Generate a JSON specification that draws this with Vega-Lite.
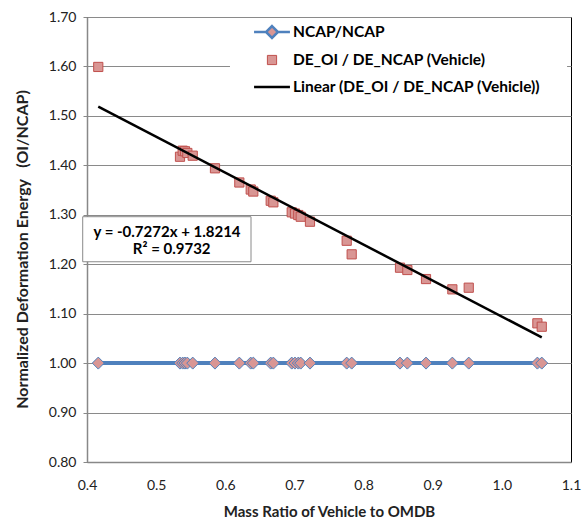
{
  "$schema": "https://vega.github.io/schema/vega-lite/v6.json",
  "width": 484,
  "height": 445,
  "autosize": {"type": "none"},
  "padding": {"left": 87, "top": 17, "right": 16, "bottom": 59},
  "background": "white",
  "config": {
    "font": "Lato",
    "view": {"stroke": "#000000", "strokeWidth": 1},
    "legend": {"symbolSize": 529},
    "scale": {"continuousPadding": 0}
  },
  "datasets": {
    "ncap": [
      {"ratio": 0.4163, "value": 1.0}, {"ratio": 0.5345, "value": 1.0}, {"ratio": 0.5384, "value": 1.0},
      {"ratio": 0.5417, "value": 1.0}, {"ratio": 0.5451, "value": 1.0}, {"ratio": 0.5529, "value": 1.0},
      {"ratio": 0.5851, "value": 1.0}, {"ratio": 0.6203, "value": 1.0}, {"ratio": 0.6368, "value": 1.0},
      {"ratio": 0.6405, "value": 1.0}, {"ratio": 0.6657, "value": 1.0}, {"ratio": 0.6695, "value": 1.0},
      {"ratio": 0.6961, "value": 1.0}, {"ratio": 0.7008, "value": 1.0}, {"ratio": 0.7056, "value": 1.0},
      {"ratio": 0.7091, "value": 1.0}, {"ratio": 0.7225, "value": 1.0}, {"ratio": 0.7756, "value": 1.0},
      {"ratio": 0.7828, "value": 1.0}, {"ratio": 0.8527, "value": 1.0}, {"ratio": 0.8633, "value": 1.0},
      {"ratio": 0.8903, "value": 1.0}, {"ratio": 0.9284, "value": 1.0}, {"ratio": 0.9521, "value": 1.0},
      {"ratio": 1.0514, "value": 1.0}, {"ratio": 1.0577, "value": 1.0}
    ],
    "de": [
      {"ratio": 0.4163, "value": 1.599, "series": "DE_OI / DE_NCAP (Vehicle)"},
      {"ratio": 0.5345, "value": 1.4174, "series": "DE_OI / DE_NCAP (Vehicle)"},
      {"ratio": 0.5384, "value": 1.4296, "series": "DE_OI / DE_NCAP (Vehicle)"},
      {"ratio": 0.5417, "value": 1.4284, "series": "DE_OI / DE_NCAP (Vehicle)"},
      {"ratio": 0.5451, "value": 1.425, "series": "DE_OI / DE_NCAP (Vehicle)"},
      {"ratio": 0.5529, "value": 1.4195, "series": "DE_OI / DE_NCAP (Vehicle)"},
      {"ratio": 0.5851, "value": 1.394, "series": "DE_OI / DE_NCAP (Vehicle)"},
      {"ratio": 0.6203, "value": 1.3653, "series": "DE_OI / DE_NCAP (Vehicle)"},
      {"ratio": 0.6368, "value": 1.3511, "series": "DE_OI / DE_NCAP (Vehicle)"},
      {"ratio": 0.6405, "value": 1.347, "series": "DE_OI / DE_NCAP (Vehicle)"},
      {"ratio": 0.6657, "value": 1.3284, "series": "DE_OI / DE_NCAP (Vehicle)"},
      {"ratio": 0.6695, "value": 1.3252, "series": "DE_OI / DE_NCAP (Vehicle)"},
      {"ratio": 0.6961, "value": 1.305, "series": "DE_OI / DE_NCAP (Vehicle)"},
      {"ratio": 0.7008, "value": 1.3025, "series": "DE_OI / DE_NCAP (Vehicle)"},
      {"ratio": 0.7056, "value": 1.2995, "series": "DE_OI / DE_NCAP (Vehicle)"},
      {"ratio": 0.7091, "value": 1.2961, "series": "DE_OI / DE_NCAP (Vehicle)"},
      {"ratio": 0.7225, "value": 1.286, "series": "DE_OI / DE_NCAP (Vehicle)"},
      {"ratio": 0.7756, "value": 1.2475, "series": "DE_OI / DE_NCAP (Vehicle)"},
      {"ratio": 0.7828, "value": 1.22, "series": "DE_OI / DE_NCAP (Vehicle)"},
      {"ratio": 0.8527, "value": 1.193, "series": "DE_OI / DE_NCAP (Vehicle)"},
      {"ratio": 0.8633, "value": 1.1883, "series": "DE_OI / DE_NCAP (Vehicle)"},
      {"ratio": 0.8903, "value": 1.17, "series": "DE_OI / DE_NCAP (Vehicle)"},
      {"ratio": 0.9284, "value": 1.1492, "series": "DE_OI / DE_NCAP (Vehicle)"},
      {"ratio": 0.9521, "value": 1.1525, "series": "DE_OI / DE_NCAP (Vehicle)"},
      {"ratio": 1.0514, "value": 1.0805, "series": "DE_OI / DE_NCAP (Vehicle)"},
      {"ratio": 1.0577, "value": 1.0736, "series": "DE_OI / DE_NCAP (Vehicle)"}
    ],
    "trend": [
      {"ratio": 0.4163, "value": 1.5187},
      {"ratio": 1.0577, "value": 1.0522}
    ],
    "legendBox": [
      {"x1": 0.6068, "x2": 1.0943, "y1": 1.698, "y2": 1.512}
    ],
    "eqBox": [
      {"x1": 0.3938, "x2": 0.6372, "y1": 1.2961, "y2": 1.205}
    ],
    "eqText": [
      {"ratio": 0.5157, "value": 1.2657, "label": "y = -0.7272x + 1.8214"},
      {"ratio": 0.5225, "value": 1.2301, "label": "R² = 0.9732"}
    ]
  },
  "layer": [
    {
      "data": {"name": "legendBox"},
      "mark": {"type": "rect", "fill": "white", "stroke": null},
      "encoding": {
        "x": {"field": "x1", "type": "quantitative", "scale": {"domain": [0.4, 1.1], "nice": false, "zero": false, "padding": 0}},
        "x2": {"field": "x2"},
        "y": {"field": "y1", "type": "quantitative", "scale": {"domain": [0.8, 1.7], "nice": false, "zero": false, "padding": 0}},
        "y2": {"field": "y2"}
      }
    },
    {
      "data": {"name": "eqBox"},
      "mark": {"type": "rect", "fill": "white", "stroke": "#8a8a8a", "strokeWidth": 1},
      "encoding": {
        "x": {"field": "x1", "type": "quantitative"},
        "x2": {"field": "x2"},
        "y": {"field": "y1", "type": "quantitative"},
        "y2": {"field": "y2"}
      }
    },
    {
      "data": {"name": "ncap"},
      "mark": {"type": "line", "color": "#4F81BD", "strokeWidth": 4},
      "encoding": {
        "x": {"field": "ratio", "type": "quantitative",
          "axis": {
            "values": [0.4, 0.5, 0.6, 0.7, 0.8, 0.9, 1.0, 1.1], "format": ".1f",
            "grid": false, "ticks": false, "labelFlush": false, "labelOverlap": false,
            "domainColor": "#888888", "domainWidth": 1.5,
            "labelFont": "Lato", "labelFontSize": 14, "labelColor": "#222222", "labelPadding": 16,
            "title": "Mass Ratio of Vehicle to OMDB",
            "titleFont": "Lato", "titleFontSize": 15, "titleFontWeight": "bold", "titleColor": "#222222", "titlePadding": 12
          }
        },
        "y": {"field": "value", "type": "quantitative",
          "axis": {
            "values": [0.8, 0.9, 1.0, 1.1, 1.2, 1.3, 1.4, 1.5, 1.6, 1.7], "format": ".2f",
            "grid": true, "gridColor": "#8a8a8a", "gridWidth": 1, "labelFlush": false, "labelOverlap": false,
            "ticks": true, "tickSize": 4, "tickColor": "#888888",
            "domainColor": "#888888", "domainWidth": 1.5,
            "labelFont": "Lato", "labelFontSize": 14, "labelColor": "#222222", "labelPadding": 7,
            "title": "Normalized Deformation Energy\u00a0\u00a0\u00a0(OI/NCAP)",
            "titleFont": "Lato", "titleFontSize": 16, "titleFontWeight": "bold", "titleColor": "#222222", "titlePadding": 18,
            "titleY": 232
          }
        }
      }
    },
    {
      "data": {"name": "ncap"},
      "mark": {"type": "point", "shape": "diamond", "size": 144, "filled": true, "fill": "#D99694", "stroke": "#4F81BD", "strokeWidth": 1, "opacity": 1},
      "encoding": {
        "x": {"field": "ratio", "type": "quantitative"},
        "y": {"field": "value", "type": "quantitative"}
      }
    },
    {
      "data": {"name": "de"},
      "mark": {"type": "point", "size": 529, "opacity": 1, "fillOpacity": 1},
      "encoding": {
        "x": {"field": "ratio", "type": "quantitative"},
        "y": {"field": "value", "type": "quantitative"},
        "fill": {"field": "series", "type": "nominal",
          "scale": {"domain": ["NCAP/NCAP", "DE_OI / DE_NCAP (Vehicle)", "Linear (DE_OI / DE_NCAP (Vehicle))"], "range": ["#D99694", "#D99694", "transparent"]},
          "legend": {
            "title": null, "orient": "none", "legendX": 172, "legendY": 2,
            "labelFont": "Lato", "labelFontSize": 15.5, "labelFontWeight": "bold", "labelColor": "#000000",
            "labelLimit": 0, "labelOffset": 8, "rowPadding": 5, "padding": 0
          }
        },
        "stroke": {"field": "series", "type": "nominal",
          "scale": {"domain": ["NCAP/NCAP", "DE_OI / DE_NCAP (Vehicle)", "Linear (DE_OI / DE_NCAP (Vehicle))"], "range": ["#4F81BD", "#C0504D", "#000000"]},
          "legend": {"title": null}
        },
        "shape": {"field": "series", "type": "nominal",
          "scale": {"domain": ["NCAP/NCAP", "DE_OI / DE_NCAP (Vehicle)", "Linear (DE_OI / DE_NCAP (Vehicle))"],
            "range": ["M-1.56,0H-0.52M0.52,0H1.56M0,-0.52L0.52,0L0,0.52L-0.52,0Z", "M-0.4,-0.4H0.4V0.4H-0.4Z", "M-1.56,0H1.56"]},
          "legend": {"title": null}
        },
        "strokeWidth": {"field": "series", "type": "nominal",
          "scale": {"type": "ordinal", "domain": ["NCAP/NCAP", "DE_OI / DE_NCAP (Vehicle)", "Linear (DE_OI / DE_NCAP (Vehicle))"], "range": [2.5, 1, 2.5]},
          "legend": {"title": null}
        }
      }
    },
    {
      "data": {"name": "trend"},
      "mark": {"type": "line", "color": "#000000", "strokeWidth": 2.5},
      "encoding": {
        "x": {"field": "ratio", "type": "quantitative"},
        "y": {"field": "value", "type": "quantitative"}
      }
    },
    {
      "data": {"name": "eqText"},
      "mark": {"type": "text", "font": "Lato", "fontSize": 15, "fontWeight": "bold", "color": "#000000", "align": "center", "baseline": "middle"},
      "encoding": {
        "x": {"field": "ratio", "type": "quantitative"},
        "y": {"field": "value", "type": "quantitative"},
        "text": {"field": "label"}
      }
    }
  ]
}
